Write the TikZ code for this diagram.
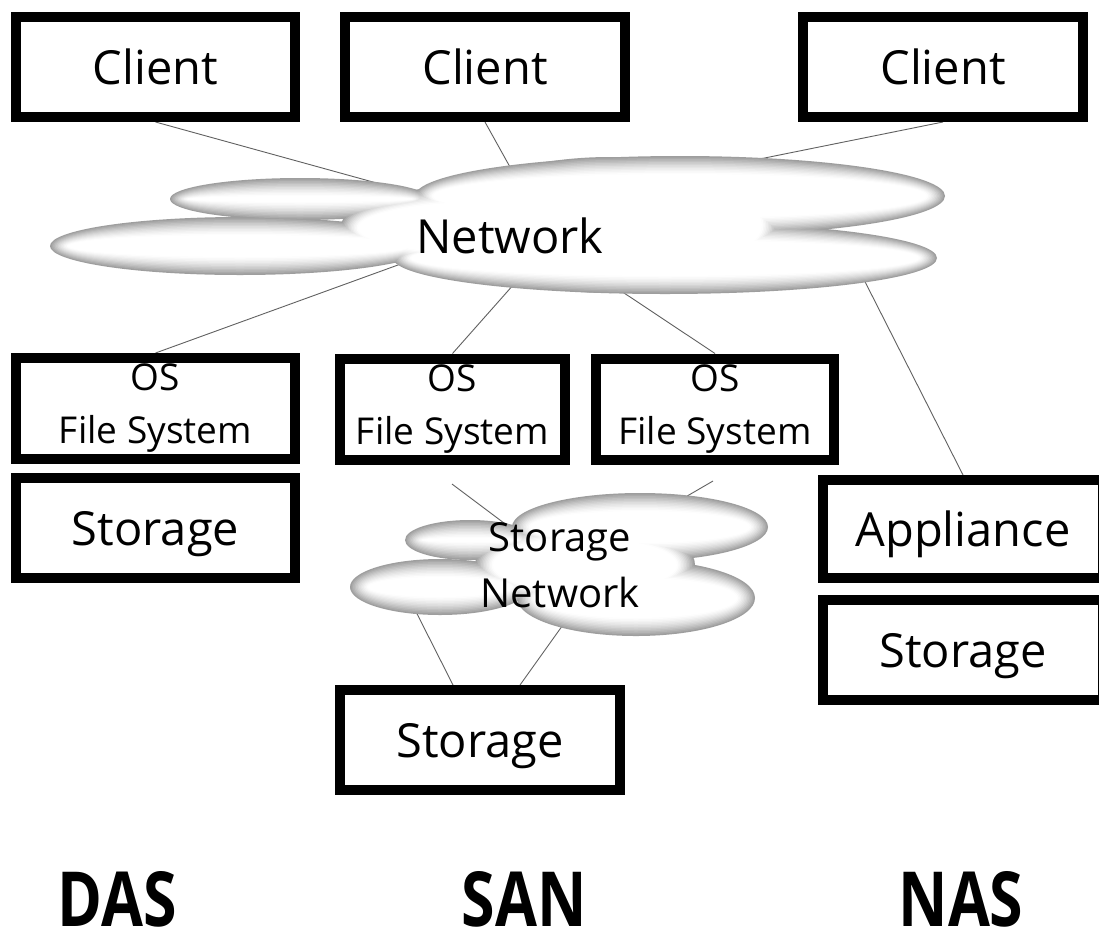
\documentclass[tikz,border=0pt]{standalone}
\usepackage{fontspec}
\setmainfont{Open Sans}
\usetikzlibrary{backgrounds,calc}
\tikzset{
  box/.style={draw=black, line width=10pt, fill=white, rectangle, inner sep=0pt,
    minimum height=100pt, font=\fontsize{47}{56}\selectfont, text height=34pt, text depth=0pt},
  osbox/.style={draw=black, line width=10pt, fill=white, rectangle, inner sep=0pt,
    minimum height=101pt, align=center, font=\fontsize{37}{53}\selectfont},
  link/.style={draw=black!62, line width=0.9pt},
  cloudtext/.style={inner sep=0pt},
  biglabel/.style={font=\fontsize{76}{80}\selectfont\bfseries, inner sep=0pt, text height=54pt, text depth=0pt},
}
\newcommand\softcloud[1]{%
  \foreach \k in {0,...,12}{%
    \pgfmathsetmacro\dd{\k*1.5}%
    \pgfmathsetmacro\gg{38*(1-\k/12)^1.5}%
    \foreach \cx/\cy/\rx/\ry in {#1}{%
      \pgfmathsetmacro\ax{max(\rx-\dd,0.1)}%
      \pgfmathsetmacro\ay{max(\ry-\dd,0.1)}%
      \fill[black!\gg] (\cx,\cy) ellipse [x radius=\ax pt, y radius=\ay pt];
    }%
  }%
}
\begin{document}
\begin{tikzpicture}[x=1pt,y=-1pt]
\useasboundingbox (0,0) rectangle (1099,932);

% boxes
\node[box, minimum width=279pt] (c1) at (155.5,67) {Client};
\node[box, minimum width=280pt] (c2) at (485,67) {Client};
\node[box, minimum width=280pt] (c3) at (943,67) {Client};
\node[osbox, minimum width=279pt] (os1) at (155.5,408.5) {OS\\File System};
\node[osbox, minimum width=225pt] (os2) at (452.5,409) {OS\\File System};
\node[osbox, minimum width=238pt] (os3) at (715,409) {OS\\File System};
\node[box, minimum width=279pt] (st1) at (155.5,528) {Storage};
\node[box, minimum width=280pt] (st2) at (480,740) {Storage};
\node[box, minimum width=280pt, minimum height=98pt] (app) at (963,529) {Appliance};
\node[box, minimum width=280pt] (st3) at (963,650) {Storage};

% cloud labels
\node[cloudtext, font=\fontsize{47}{56}\selectfont, text height=34pt, text depth=0pt] (net) at (510,236) {Network};
\node[cloudtext, align=center, font=\fontsize{40}{56}\selectfont] (sn) at (560,565) {Storage\\Network};

% bottom labels
\node[biglabel] (das) at (117.5,899) {\scalebox{0.8}[1]{DAS}};
\node[biglabel] (san) at (524,899) {\scalebox{0.8}[1]{SAN}};
\node[biglabel] (nas) at (961,899) {\scalebox{0.8}[1]{NAS}};

% hidden ends of connectors inside the clouds
\coordinate (n1) at (420,195);
\coordinate (n2) at (520,185);
\coordinate (n3) at (720,167);
\coordinate (n4) at (420,257);
\coordinate (n5) at (530,266);
\coordinate (n6) at (600,277);
\coordinate (n7) at (855,262);
\coordinate (a1) at (452,484);
\coordinate (a2) at (713,481);
\coordinate (s1) at (520,535);
\coordinate (s2) at (670,506);
\coordinate (s3) at (405,590);
\coordinate (s4) at (575,608);

\begin{pgfonlayer}{background}
  \fill[white] (0,0) rectangle (1099,932);
  \draw[link] (c1.south) -- (n1);
  \draw[link] (c2.south) -- (n2);
  \draw[link] (c3.south) -- (n3);
  \draw[link] (os1.north) -- (n4);
  \draw[link] (os2.north) -- (n5);
  \draw[link] (os3.north) -- (n6);
  \draw[link] (app.north) -- (n7);
  \draw[link] (a1) -- (s1);
  \draw[link] (a2) -- (s2);
  \draw[link] ($(st2.north)+(-27,0)$) -- (s3);
  \draw[link] ($(st2.north)+(40,0)$) -- (s4);
  % Network cloud
  \softcloud{680/196/265/40, 665/258/272/36, 300/199/130/21, 240/246/190/29, 500/228/160/45, 610/225/170/68}
  % Storage Network cloud
  \softcloud{470/540/65/20, 440/587/90/28, 640/527/128/34, 636/598/119/38, 585/565/110/45}
\end{pgfonlayer}
\end{tikzpicture}
\end{document}
